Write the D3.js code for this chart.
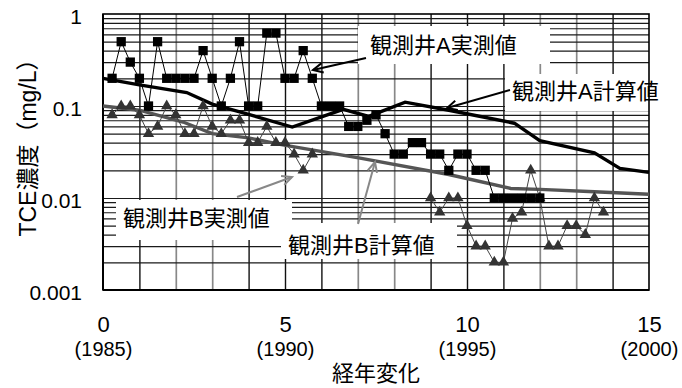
<!DOCTYPE html>
<html><head><meta charset="utf-8">
<script src="https://cdn.jsdelivr.net/npm/d3@7"></script>
<style>
html,body{margin:0;padding:0;background:#fff;}
svg{display:block;font-family:"Liberation Sans","Noto Sans CJK JP",sans-serif;}
</style></head><body>
<svg id="chart" width="682" height="388"></svg>
<script>
// ---- data ----
const xTickValues = [0, 5, 10, 15];
const xTickLabels = ["0", "5", "10", "15"];
const xYearLabels = ["(1985)", "(1990)", "(1995)", "(2000)"];
const yTickValues = [0.001, 0.01, 0.1, 1];
const yTickLabels = ["0.001", "0.01", "0.1", "1"];

const measuredTimes = [0.25,0.5,0.75,1,1.25,1.5,1.75,2,2.25,2.5,2.75,3,3.25,3.5,3.75,4,4.25,4.5,4.75,5,
  5.25,5.5,5.75,6,6.25,6.5,6.75,7,7.25,7.5,7.75,8,8.25,8.5,8.75,9,9.25,9.5,9.75,10,
  10.25,10.5,10.75,11,11.25,11.5,11.75,12,12.25,12.5,12.75,13,13.25,13.5,13.75];
const wellAMeasured = [0.2,0.5,0.3,0.2,0.1,0.5,0.2,0.2,0.2,0.2,0.4,0.2,0.1,0.2,0.5,0.1,0.1,0.62,0.62,0.2,
  0.2,0.4,0.2,0.1,0.1,0.1,0.06,0.06,0.07,0.08,0.05,0.03,0.03,0.04,0.04,0.03,0.03,0.02,0.03,0.03,
  0.02,0.02,0.01,0.01,0.01,0.01,0.01,0.01,null,null,null,null,null,null,null];
const wellBMeasured = [0.08,0.1,0.1,0.08,0.05,0.06,0.1,0.08,0.05,0.05,0.1,0.06,0.05,0.07,0.07,0.04,0.04,0.06,0.04,0.04,
  0.03,0.02,0.03,null,null,null,null,null,null,null,null,null,null,null,null,0.01,0.007,0.01,0.01,0.005,
  0.003,0.003,0.002,0.002,0.006,0.007,0.02,0.01,0.003,0.003,0.005,0.005,0.004,0.01,0.007];

const calcATimes = [0, 1, 2.3, 3, 4, 5.2, 6.6, 7.3, 8.3, 9.5, 11.3, 12, 13.5, 14.2, 15];
const calcAValues = [0.2, 0.17, 0.14, 0.105, 0.081, 0.059, 0.092, 0.077, 0.11, 0.09, 0.065, 0.042, 0.031, 0.021, 0.019];
const calcBTimes = [0, 1, 2.2, 3, 4, 4.9, 7.1, 9.5, 11.2, 12, 13.5, 15];
const calcBValues = [0.1, 0.09, 0.067, 0.05, 0.045, 0.038, 0.027, 0.018, 0.0127, 0.0124, 0.0117, 0.011];

const labelTexts = ["観測井A実測値", "観測井A計算値", "観測井B実測値", "観測井B計算値"];
const xTitle = "経年変化";
const yTitle = "TCE濃度（mg/L）";

// ---- layout ----
const L = 103, T = 14, W = 546, H = 276;
const svg = d3.select("#chart");
const x = d3.scaleLinear().domain([0, 15]).range([L, L + W]);
const y = d3.scaleLog().domain([0.001, 1]).range([T + H, T]);

// vertical grid
const darkYears = new Set([1,4,5,6,9,10,11,14]);
const gx = svg.append("g").attr("transform", `translate(0,${T + H})`)
  .call(d3.axisBottom(x).tickValues(d3.range(1, 15)).tickSize(-H).tickFormat(""));
gx.select(".domain").remove();
gx.selectAll(".tick line").attr("stroke", d => darkYears.has(d) ? "#111" : "#888")
  .attr("stroke-width", d => darkYears.has(d) ? 1.4 : 1.7);

// horizontal grid
const minor = y.ticks().filter(v => v > 0.001 && v < 1);
const gy = svg.append("g").attr("transform", `translate(${L},0)`)
  .call(d3.axisLeft(y).tickValues(minor).tickSize(-W).tickFormat(""));
gy.select(".domain").remove();
gy.selectAll(".tick line").attr("stroke", "#1a1a1a").attr("stroke-width", 1.2);

// label boxes (hide grid)
const boxes = [
  {x: 358, y: 26, w: 192, h: 38, tx: 370, ty: 45},
  {x: 505, y: 74, w: 177, h: 37, tx: 512, ty: 91},
  {x: 116, y: 200, w: 176, h: 40, tx: 123, ty: 218},
  {x: 281, y: 223, w: 176, h: 36, tx: 288, ty: 245}
];
svg.append("g").selectAll("rect").data(boxes).join("rect")
  .attr("x", d => d.x).attr("y", d => d.y).attr("width", d => d.w).attr("height", d => d.h)
  .attr("fill", "#fff");

// frame
svg.append("rect").attr("x", L).attr("y", T).attr("width", W).attr("height", H)
  .attr("fill", "none").attr("stroke", "#000").attr("stroke-width", 1.6);
svg.append("line").attr("x1", L).attr("x2", L).attr("y1", T).attr("y2", T + H).attr("stroke", "#000").attr("stroke-width", 2);
svg.append("line").attr("x1", L).attr("x2", L + W).attr("y1", T + H).attr("y2", T + H).attr("stroke", "#000").attr("stroke-width", 2);

// lines
const lineGen = d3.line().defined(d => d[1] != null).x(d => x(d[0])).y(d => y(d[1]));
const aCalc = calcATimes.map((t, i) => [t, calcAValues[i]]);
const bCalc = calcBTimes.map((t, i) => [t, calcBValues[i]]);
const aMeas = measuredTimes.map((t, i) => [t, wellAMeasured[i]]);
const bMeas = measuredTimes.map((t, i) => [t, wellBMeasured[i]]);

svg.append("path").datum(bCalc).attr("d", lineGen).attr("fill", "none").attr("stroke", "#555").attr("stroke-width", 3.4);
svg.append("path").datum(aCalc).attr("d", lineGen).attr("fill", "none").attr("stroke", "#000").attr("stroke-width", 3.4);
svg.append("path").datum(bMeas).attr("d", lineGen).attr("fill", "none").attr("stroke", "#444").attr("stroke-width", 1);
svg.append("path").datum(aMeas).attr("d", lineGen).attr("fill", "none").attr("stroke", "#000").attr("stroke-width", 1);

svg.append("g").selectAll("path").data(bMeas.filter(d => d[1] != null)).join("path")
  .attr("d", d3.symbol(d3.symbolTriangle, 56))
  .attr("transform", d => `translate(${x(d[0])},${y(d[1])})`).attr("fill", "#333");
svg.append("g").selectAll("path").data(aMeas.filter(d => d[1] != null)).join("path")
  .attr("d", d3.symbol(d3.symbolSquare, 86))
  .attr("transform", d => `translate(${x(d[0])},${y(d[1])})`).attr("fill", "#000");

// label texts
svg.append("g").selectAll("text").data(boxes).join("text")
  .attr("x", d => d.tx).attr("y", d => d.ty).attr("dy", "0.36em")
  .attr("font-size", 22).attr("fill", "#000").text((d, i) => labelTexts[i]);

// arrows
const arrows = [
  {x1: 366, y1: 58, x2: 313, y2: 70, c: "#000"},
  {x1: 510, y1: 90, x2: 447, y2: 108, c: "#000"},
  {x1: 237, y1: 197, x2: 292, y2: 177, c: "#888"},
  {x1: 358, y1: 224, x2: 375, y2: 162, c: "#888"}
];
arrows.forEach(a => {
  const g = svg.append("g").attr("stroke", a.c).attr("stroke-width", 2).attr("fill", "none");
  g.append("line").attr("x1", a.x1).attr("y1", a.y1).attr("x2", a.x2).attr("y2", a.y2);
  const ang = Math.atan2(a.y1 - a.y2, a.x1 - a.x2), len = 11, sp = 0.45;
  g.append("polyline").attr("points", [
    [a.x2 + len * Math.cos(ang + sp), a.y2 + len * Math.sin(ang + sp)],
    [a.x2, a.y2],
    [a.x2 + len * Math.cos(ang - sp), a.y2 + len * Math.sin(ang - sp)]
  ].map(p => p.join(",")).join(" "));
});

// axes labels
const ax = svg.append("g").attr("transform", `translate(0,${T + H})`)
  .call(d3.axisBottom(x).tickValues(xTickValues).tickSize(0).tickPadding(0)
    .tickFormat((d, i) => xTickLabels[i]));
ax.select(".domain").remove();
ax.selectAll(".tick text").attr("font-size", 22).attr("font-family", null).attr("fill", "#000")
  .attr("y", 42).attr("dy", 0);
ax.selectAll(".tick").append("text").attr("font-size", 20).attr("fill", "#000")
  .attr("text-anchor", "middle").attr("y", 66).text((d, i) => xYearLabels[i]);

const ay = svg.append("g").attr("transform", `translate(${L},0)`)
  .call(d3.axisLeft(y).tickValues(yTickValues).tickSize(0).tickPadding(21)
    .tickFormat((d, i) => yTickLabels[i]));
ay.select(".domain").remove();
ay.selectAll(".tick text").attr("font-size", 21).attr("font-family", null).attr("fill", "#000")
  .attr("dy", "0.45em");

svg.append("text").attr("x", 376).attr("y", 381).attr("text-anchor", "middle")
  .attr("font-size", 22).attr("fill", "#000").text(xTitle);
svg.append("text").attr("transform", "translate(36,142) rotate(-90)").attr("text-anchor", "middle")
  .attr("font-size", 23).attr("fill", "#000").text(yTitle);
</script>
</body></html>
